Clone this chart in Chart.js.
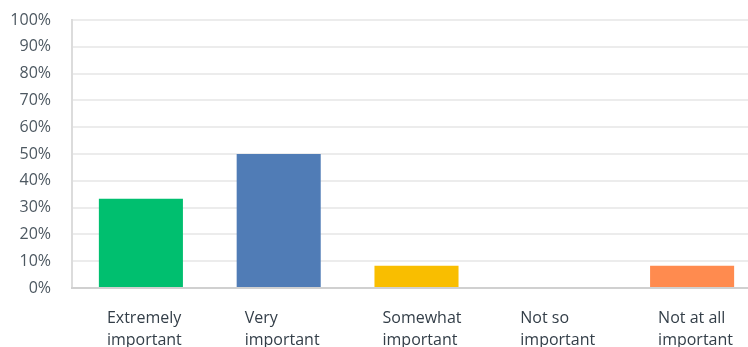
<!DOCTYPE html>
<html>
<head>
<meta charset="utf-8">
<script src="https://cdn.jsdelivr.net/npm/chart.js@4"></script>
<style>
  html, body { margin: 0; padding: 0; background: #fff; overflow: hidden; }
  #wrap { width: 761px; height: 347px; }
</style>
</head>
<body>
<div id="wrap"><canvas id="chartCanvas" width="761" height="347"></canvas></div>
<script>
// Answer choices and share of respondents (%)
const categories = [
  ["Extremely", "important"],
  ["Very", "important"],
  ["Somewhat", "important"],
  ["Not so", "important"],
  ["Not at all", "important"],
];
const percentages = [33.33, 50, 8.33, 0, 8.33];
const barColors = ["#00bf6f", "#507cb6", "#f9be00", "#6bc8cd", "#ff8b4f"];

const ctx = document.getElementById("chartCanvas").getContext("2d");

new Chart(ctx, {
  type: "bar",
  data: {
    labels: categories,
    datasets: [
      {
        data: percentages,
        backgroundColor: barColors,
        borderWidth: 0,
        barPercentage: 0.61,
        categoryPercentage: 1,
      },
    ],
  },
  options: {
    responsive: false,
    animation: false,
    layout: { padding: { top: 20, right: 0, left: 0, bottom: 0 } },
    plugins: { legend: { display: false }, tooltip: { enabled: false } },
    scales: {
      y: {
        min: 0,
        max: 100,
        afterFit: (scale) => {
          scale.width = 72;
          scale.paddingTop = 0;
          scale.paddingBottom = 0;
        },
        ticks: {
          stepSize: 10,
          padding: 21,
          color: "#4d5861",
          font: { family: "Open Sans", size: 16 },
          callback: (v) => v + "%",
        },
        grid: { color: "#ececec", lineWidth: 2, drawTicks: false },
        border: { color: "#dcdcdc", width: 2 },
      },
      x: {
        afterFit: (scale) => {
          scale.height = 59;
          scale.paddingLeft = 0;
          scale.paddingRight = 0;
        },
        ticks: {
          align: "start",
          labelOffset: -34,
          padding: 19,
          color: "#333e48",
          font: { family: "Open Sans", size: 16, lineHeight: 1.375 },
          maxRotation: 0,
          autoSkip: false,
        },
        grid: { display: false, drawTicks: false },
        border: { color: "#d0d0d0", width: 2 },
      },
    },
  },
});
</script>
</body>
</html>
